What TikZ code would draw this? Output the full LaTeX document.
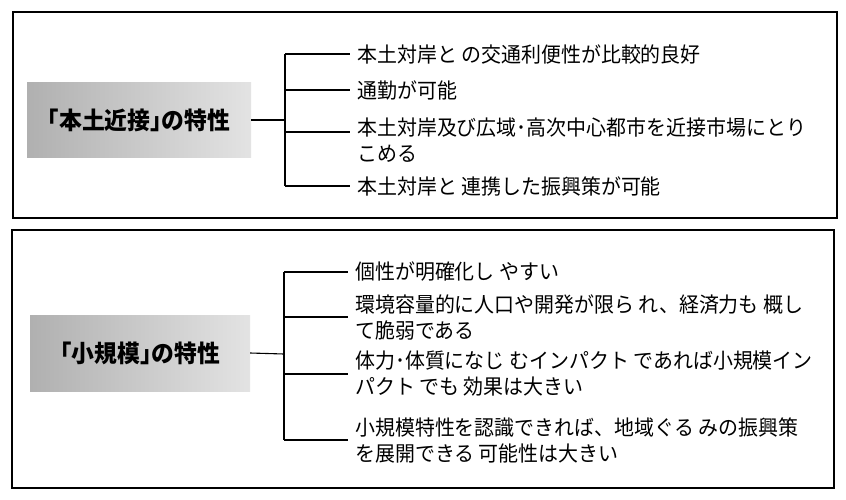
\documentclass[tikz,border=0pt]{standalone}
\usepackage{fontspec}
\newfontfamily\jpfont[FakeStretch=0.95]{Noto Sans CJK JP}
\newfontfamily\jphead[FakeStretch=0.95]{Noto Sans CJK JP}
\usetikzlibrary{positioning}
\begin{document}
\begin{tikzpicture}[x=1pt,y=-1pt,
  frame/.style={line width=1.3pt},
  headbox/.style={left color=gray!62,right color=gray!22,minimum width=224pt,minimum height=75pt,inner sep=0pt,
    font=\jphead\bfseries\fontsize{24}{28}\selectfont},
  item/.style={anchor=west,align=left,inner xsep=7pt,inner ysep=0pt,font=\jpfont\fontsize{21}{26}\selectfont},
  link/.style={line width=1.1pt}]
\useasboundingbox (0,0) rectangle (846,499);
\draw[frame] (13,12) rectangle (837,218);
\draw[frame] (12,230) rectangle (834,488);
% upper box
\node[headbox] (near) at (139,120) {｢本土近接｣の特性};
\node[item] (n1) at (350,54) {本土対岸と の交通利便性が比較的良好};
\node[item] (n2) at (350,90) {通勤が可能};
\node[item,anchor=north west] (n3) at (350,118) {本土対岸及び広域･高次中心都市を近接市場にとり\\こめる};
\node[item] (n4) at (350,186) {本土対岸と 連携した振興策が可能};
\coordinate (nj) at (285,120);
\coordinate (n3a) at ([yshift=-14pt]n3.north west);
\draw[link] (near.east) -- (nj);
\draw[link] (nj |- n1.west) -- (nj |- n4.west);
\foreach \i in {n1,n2,n3a,n4} \draw[link] (nj |- \i) -- (\i);
% lower box
\node[headbox,minimum width=220pt,minimum height=76pt] (small) at (140,353) {｢小規模｣の特性};
\node[item] (s1) at (348,272) {個性が明確化し やすい};
\node[item] (s2) at (348,317) {環境容量的に人口や開発が限ら れ、経済力も 概し\\て脆弱である};
\node[item] (s3) at (348,374) {体力･体質になじ むインパクト であれば小規模イン\\パクト でも 効果は大きい};
\node[item] (s4) at (348,440) {小規模特性を認識できれば、地域ぐる みの振興策\\を展開できる 可能性は大きい};
\coordinate (sj) at (284,354);
\draw[link] (small.east) -- (sj);
\draw[link] (sj |- s1.west) -- (sj |- s4.west);
\foreach \i in {s1,s2,s3,s4} \draw[link] (sj |- \i.west) -- (\i.west);
\end{tikzpicture}
\end{document}
